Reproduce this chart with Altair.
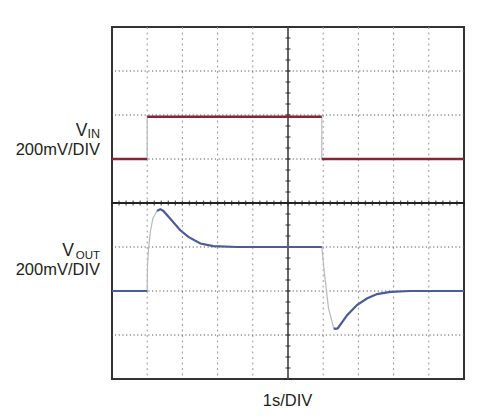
import altair as alt
import pandas as pd

# scope traces, 1s/DIV across 10 divisions, 8 vertical divisions
vin_t = [0, 1.0, 1.0, 5.96, 5.96, 10]
vin_v = [5.0, 5.0, 5.96, 5.96, 5.0, 5.0]

vout_t = [0, 1.0, 1.01, 1.04, 1.09, 1.16, 1.28, 1.37, 1.46, 1.65, 1.94, 2.17,
          2.51, 2.88, 3.55, 5.96, 6.03, 6.15, 6.30, 6.35, 6.41, 6.68, 6.96,
          7.24, 7.53, 7.91, 8.47, 10]
vout_v = [2.0, 2.0, 2.59, 2.97, 3.35, 3.65, 3.82, 3.86, 3.82, 3.65, 3.38, 3.23,
          3.08, 3.02, 3.0, 3.0, 2.44, 1.61, 1.15, 1.14, 1.15, 1.45, 1.68,
          1.83, 1.93, 1.98, 2.0, 2.0]

# index ranges drawn with the heavy pen (the fast edges stay thin)
vin_heavy = [(0, 2), (2, 4), (4, 6)]
vout_heavy = [(0, 2), (6, 16), (18, 28)]

grid_x = [1, 2, 3, 4, 6, 7, 8, 9]
grid_y = [1, 2, 3, 5, 6, 7]
minor_x = [i / 5 for i in range(51)]
minor_y = [i / 4 for i in range(33)]

FONT = "Liberation Sans, Arial"
INK = "#231f20"


def trace(name, t, v):
    return pd.DataFrame({"t": t, "v": v, "trace": name, "i": range(len(t))})


def heavy(df, ranges):
    parts = []
    for k, (a, b) in enumerate(ranges):
        p = df.iloc[a:b].copy()
        p["seg"] = k
        parts.append(p)
    return pd.concat(parts)


vin = trace("VIN", vin_t, vin_v)
vout = trace("VOUT", vout_t, vout_v)

xs = alt.Scale(domain=[0, 10], nice=False, zero=False)
ys = alt.Scale(domain=[0, 8], nice=False, zero=False)
X = alt.X("t:Q", scale=xs, axis=None)
Y = alt.Y("v:Q", scale=ys, axis=None)

grid_v = alt.Chart(pd.DataFrame({"t": grid_x})).mark_rule(
    color="#9a9a9a", strokeWidth=1, strokeDash=[2, 3.5]
).encode(x=X)
grid_h = alt.Chart(pd.DataFrame({"v": grid_y})).mark_rule(
    color="#555555", strokeWidth=1, strokeDash=[1.2, 2.5]
).encode(y=Y)

thin = alt.Chart(pd.concat([vin, vout])).mark_line(
    color="#b9b9c0", strokeWidth=1.2
).encode(x=X, y=Y, detail="trace:N", order="i:Q")

center_h = alt.Chart(pd.DataFrame({"v": [4]})).mark_rule(
    color="#222222", strokeWidth=2
).encode(y=Y)
center_v = alt.Chart(pd.DataFrame({"t": [5]})).mark_rule(
    color="#666666", strokeWidth=2
).encode(x=X)

ticks_h = alt.Chart(pd.DataFrame({"t": minor_x, "v": 4})).mark_tick(
    orient="vertical", size=5, thickness=1.3, color="#222222"
).encode(x=X, y=Y)
ticks_v = alt.Chart(pd.DataFrame({"t": 5, "v": minor_y})).mark_tick(
    orient="horizontal", size=5, thickness=1.3, color="#222222"
).encode(x=X, y=Y)

vin_line = alt.Chart(heavy(vin, vin_heavy)).mark_line(
    color="#8a2333", strokeWidth=2.6
).encode(x=X, y=Y, detail="seg:N", order="i:Q")
vout_line = alt.Chart(heavy(vout, vout_heavy)).mark_line(
    color="#4b5c9e", strokeWidth=2.2
).encode(x=X, y=Y, detail="seg:N", order="i:Q")


def label(text, x, y, size, align="right"):
    return alt.Chart(pd.DataFrame({"a": [0]})).mark_text(
        text=text, font=FONT, fontSize=size, color=INK, align=align,
        baseline="alphabetic"
    ).encode(x=alt.value(x), y=alt.value(y))


texts = [
    label("V", -24.5, 108.5, 17.5),
    label("IN", -12, 110.5, 12.5),
    label("200mV/DIV", -12, 128, 16.5),
    label("V", -38, 229, 17.5),
    label("OUT", -12, 231.5, 11.5),
    label("200mV/DIV", -12, 248, 16.5),
    label("1s/DIV", 175.5, 379, 16.5, "center"),
]

chart = alt.layer(
    grid_v, grid_h, center_v, center_h, ticks_h, ticks_v, thin,
    vin_line, vout_line, *texts
).properties(
    width=352, height=352,
    autosize=alt.AutoSizeParams(type="none"),
    padding={"left": 104, "top": 19, "right": 12, "bottom": 31},
).configure_view(
    stroke="#333333", strokeWidth=2
)

chart.save("out.html", embed_options={"renderer": "svg", "actions": False})
